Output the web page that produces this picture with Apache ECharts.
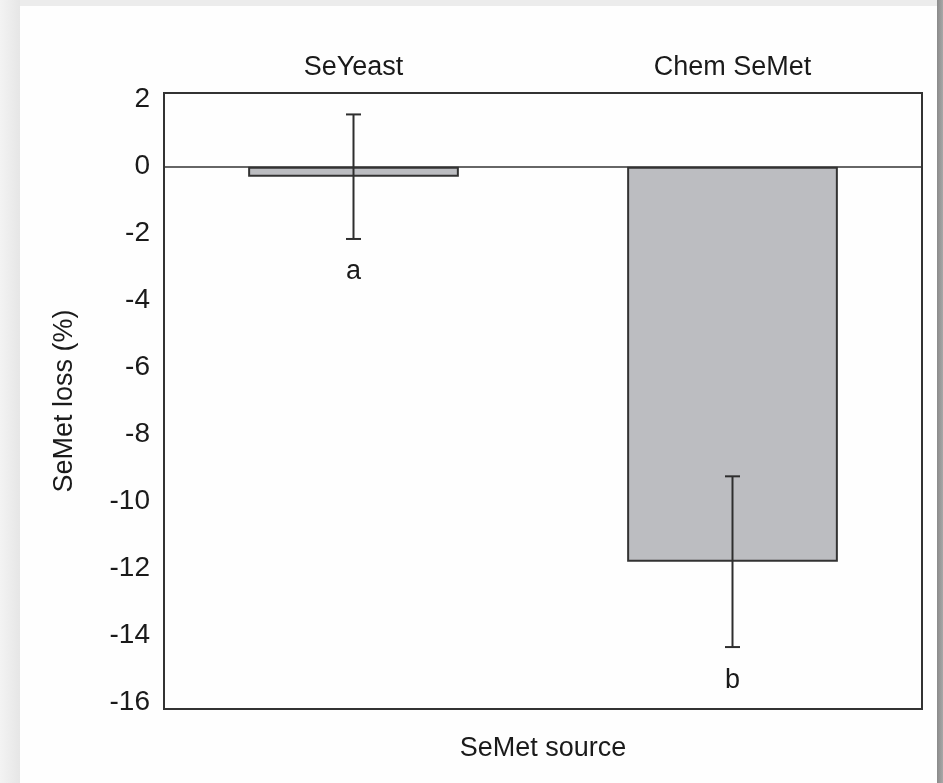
<!DOCTYPE html>
<html>
<head>
<meta charset="utf-8">
<script src="https://cdn.jsdelivr.net/npm/echarts@6/dist/echarts.min.js"></script>
<style>
  html, body { margin: 0; padding: 0; }
  body { width: 943px; height: 783px; position: relative; overflow: hidden; background: #ececec; }
  #leftband { position: absolute; left: 0; top: 0; width: 20px; height: 783px;
    background: linear-gradient(to right, #f3f3f3, #e6e6e6); }
  #panel { position: absolute; left: 20px; top: 6px; width: 917px; height: 777px; background: #fefefe; }
  #rightedge { position: absolute; left: 937px; top: 0; width: 6px; height: 783px;
    background: linear-gradient(to right, #8a8a8a, #a8a8a8); }
  #chart { position: absolute; left: 0; top: 0; width: 943px; height: 783px; }
</style>
</head>
<body>
<div id="leftband"></div>
<div id="panel"></div>
<div id="rightedge"></div>
<div id="chart"></div>
<script>
// SeMet loss by selenium source (mean ± SD)
const categories = ['SeYeast', 'Chem SeMet'];
const meanLoss = [-0.3, -11.8];
const sdLoss = [1.86, 2.55];
const groupLetters = ['a', 'b'];
const yTickValues = [2, 0, -2, -4, -6, -8, -10, -12, -14, -16];

const FONT = '"Liberation Sans", Arial, sans-serif';
const INK = '#1a1a1a';

const errorData = categories.map((c, i) => [i, meanLoss[i] - sdLoss[i], meanLoss[i] + sdLoss[i]]);

const chart = echarts.init(document.getElementById('chart'), null, { renderer: 'canvas' });

chart.setOption({
  backgroundColor: 'transparent',
  animation: false,
  grid: {
    left: 164, top: 93, width: 758, height: 616,
    show: true, borderColor: '#333333', borderWidth: 2, backgroundColor: 'transparent'
  },
  xAxis: [
    {
      type: 'category',
      data: categories,
      position: 'top',
      axisLine: { show: false },
      axisTick: { show: false },
      axisLabel: { color: INK, fontFamily: FONT, fontSize: 27, margin: 12 }
    },
    {
      type: 'category',
      data: categories,
      position: 'bottom',
      axisLine: { show: false },
      axisTick: { show: false },
      axisLabel: { show: false },
      name: 'SeMet source',
      nameLocation: 'middle',
      nameGap: 26,
      nameTextStyle: { color: INK, fontFamily: FONT, fontSize: 27 }
    }
  ],
  yAxis: {
    type: 'value',
    min: -16.2,
    max: 2.2,
    axisLine: { show: false },
    axisTick: { show: false },
    splitLine: { show: false },
    axisLabel: {
      customValues: yTickValues,
      color: INK, fontFamily: FONT, fontSize: 28, margin: 14
    },
    name: 'SeMet loss (%)',
    nameLocation: 'middle',
    nameGap: 86,
    nameTextStyle: { color: INK, fontFamily: FONT, fontSize: 27 }
  },
  series: [
    {
      type: 'bar',
      data: meanLoss,
      barWidth: '55.6%',
      itemStyle: { color: '#bcbdc1', borderColor: '#333333', borderWidth: 2 },
      markLine: {
        silent: true,
        symbol: 'none',
        label: { show: false },
        lineStyle: { color: '#333333', width: 1.5, type: 'solid' },
        data: [{ yAxis: 0 }]
      },
      z: 2
    },
    {
      type: 'custom',
      data: errorData,
      z: 5,
      renderItem: function (params, api) {
        const x = api.value(0);
        const lo = api.coord([x, api.value(1)]);
        const hi = api.coord([x, api.value(2)]);
        const cap = 7.5;
        const style = { stroke: '#2e2e2e', lineWidth: 2 };
        return {
          type: 'group',
          children: [
            { type: 'line', shape: { x1: hi[0], y1: hi[1], x2: lo[0], y2: lo[1] }, style: style },
            { type: 'line', shape: { x1: hi[0] - cap, y1: hi[1], x2: hi[0] + cap, y2: hi[1] }, style: style },
            { type: 'line', shape: { x1: lo[0] - cap, y1: lo[1], x2: lo[0] + cap, y2: lo[1] }, style: style },
            {
              type: 'text',
              style: {
                text: groupLetters[params.dataIndex],
                x: lo[0], y: lo[1] + 33,
                align: 'center', verticalAlign: 'middle',
                fill: INK, font: '27px ' + FONT
              }
            }
          ]
        };
      }
    }
  ]
});
</script>
</body>
</html>
